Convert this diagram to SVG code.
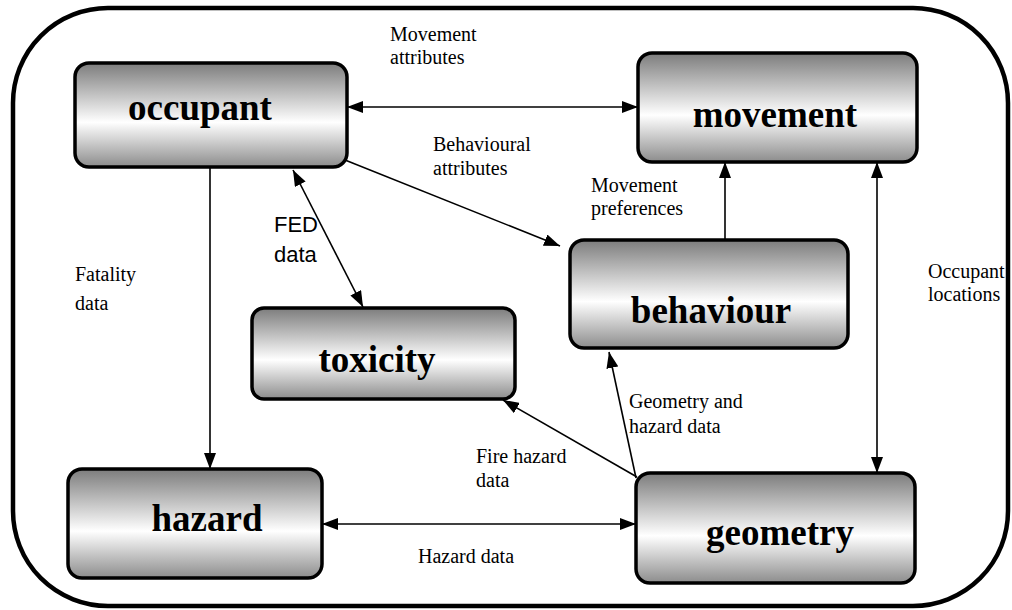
<svg xmlns="http://www.w3.org/2000/svg" width="1012" height="610" viewBox="0 0 1012 610">
<defs>
<linearGradient id="g" x1="0" y1="0" x2="0" y2="1">
<stop offset="0" stop-color="#7c7c7c"/>
<stop offset="0.57" stop-color="#ffffff"/>
<stop offset="1" stop-color="#8c8c8c"/>
</linearGradient>
<marker id="ah" viewBox="0 0 16 12" refX="16" refY="6" markerWidth="16" markerHeight="12" markerUnits="userSpaceOnUse" orient="auto-start-reverse">
<path d="M0,0 L16,6 L0,12 z" fill="#000"/>
</marker>
<style>
.box{fill:url(#g);stroke:#000;stroke-width:3.5}
.name{font-family:"Liberation Serif","Times New Roman",serif;font-weight:bold;font-size:37px;text-anchor:middle;fill:#000}
.lbl{font-family:"Liberation Serif","Times New Roman",serif;font-size:20px;fill:#000}
.sans{font-family:"Liberation Sans",Arial,sans-serif;font-size:22px;fill:#000}
.c{fill:none;stroke:#000;stroke-width:1.6}
</style>
</defs>
<rect x="13" y="8" width="995" height="598" rx="95" ry="95" fill="#fff" stroke="#000" stroke-width="4.5"/>
<g id="connectors">
<path class="c" d="M347,107 L638,107" marker-start="url(#ah)" marker-end="url(#ah)"/>
<path class="c" d="M345,160 L560,246" marker-end="url(#ah)"/>
<path class="c" d="M210,167 L210,469" marker-end="url(#ah)"/>
<path class="c" d="M293,170 L363,307" marker-start="url(#ah)" marker-end="url(#ah)"/>
<path class="c" d="M725,240 L725,162" marker-end="url(#ah)"/>
<path class="c" d="M877,162 L877,473" marker-start="url(#ah)" marker-end="url(#ah)"/>
<path class="c" d="M636,478 L609,352" marker-end="url(#ah)"/>
<path class="c" d="M637,477 L503,400" marker-end="url(#ah)"/>
<path class="c" d="M322,524 L636,524" marker-start="url(#ah)" marker-end="url(#ah)"/>
</g>
<g id="labels">
<text class="lbl" x="390" y="41">Movement</text>
<text class="lbl" x="390" y="64">attributes</text>
<text class="lbl" x="433" y="151">Behavioural</text>
<text class="lbl" x="433" y="175">attributes</text>
<text class="lbl" x="591" y="192">Movement</text>
<text class="lbl" x="591" y="215">preferences</text>
<text class="sans" x="274" y="232">FED</text>
<text class="sans" x="274" y="262">data</text>
<text class="lbl" x="75" y="281">Fatality</text>
<text class="lbl" x="75" y="310">data</text>
<text class="lbl" x="928" y="278">Occupant</text>
<text class="lbl" x="928" y="301">locations</text>
<text class="lbl" x="629" y="408">Geometry and</text>
<text class="lbl" x="629" y="433">hazard data</text>
<text class="lbl" x="476" y="463">Fire hazard</text>
<text class="lbl" x="476" y="487">data</text>
<text class="lbl" x="418" y="563">Hazard data</text>
</g>
<g id="occupant"><rect class="box" x="75" y="63" width="272" height="104" rx="14"/><text class="name" x="200" y="120">occupant</text></g>
<g id="movement"><rect class="box" x="638" y="53" width="279" height="109" rx="14"/><text class="name" x="775" y="127">movement</text></g>
<g id="behaviour"><rect class="box" x="570" y="240" width="278" height="108" rx="14"/><text class="name" x="711" y="323">behaviour</text></g>
<g id="toxicity"><rect class="box" x="252" y="308" width="263" height="91" rx="12"/><text class="name" x="377" y="372">toxicity</text></g>
<g id="hazard"><rect class="box" x="68" y="469" width="254" height="109" rx="14"/><text class="name" x="207" y="531">hazard</text></g>
<g id="geometry"><rect class="box" x="636" y="473" width="279" height="110" rx="14"/><text class="name" x="780" y="545">geometry</text></g>
</svg>
